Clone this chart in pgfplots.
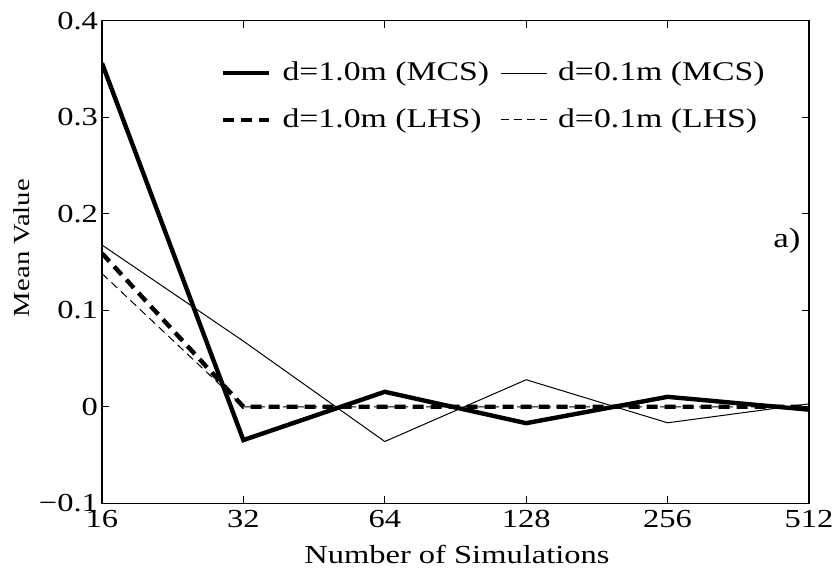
\documentclass[border=0pt]{standalone}
\usepackage{pgfplots}
\pgfplotsset{compat=1.18}
\usepackage{fontspec}
\setmainfont[FakeStretch=1.25]{Liberation Serif}
\begin{document}
\begin{tikzpicture}[font=\fontsize{13}{15}\selectfont]
\begin{axis}[
  at={(0pt,0pt)}, anchor=south west,
  scale only axis,
  width=353.5pt, height=241.3pt,
  xmin=0, xmax=5, ymin=-0.1, ymax=0.4,
  xtick={0,1,2,3,4,5},
  xticklabels={16,32,64,128,256,512},
  ytick={-0.1,0,0.1,0.2,0.3,0.4},
  yticklabels={−0.1,0,0.1,0.2,0.3,0.4},
  tick align=inside,
  major tick length=3.5pt,
  axis line style={line width=0.6pt},
  every tick/.style={black, line width=0.6pt},
  /pgf/number format/assume math mode=true,
  yticklabel style={xshift=1.5pt},
  xlabel={Number of Simulations},
  ylabel={Mean Value},
  xlabel style={at={(axis description cs:0.502,-0.107)}, anchor=center},
  ylabel style={at={(axis description cs:-0.1131,0.529)}, anchor=center,
    font=\fontsize{11.5}{14}\selectfont},
  legend columns=2,
  legend cell align=left,
  legend style={draw=none, fill=none, at={(axis description cs:0.168,0.921)}, anchor=north west,
    inner sep=0pt, row sep=9.5pt, column sep=4pt,
    nodes={inner sep=1.5pt}, font=\fontsize{13.5}{16}\selectfont},
  legend image code/.code={\draw[#1] (0pt,0pt) -- (23pt,0pt);},
]
% d=1.0m (MCS)
\addplot[black, line width=2.2pt] coordinates {
(0,0.356) (1,-0.0345) (2,0.0155) (3,-0.017) (4,0.0103) (5,-0.003)};
\addlegendentry{d=1.0m (MCS)\hspace{18pt}}
% d=0.1m (MCS)
\addplot[black, line width=0.5pt] coordinates {
(0,0.1676) (1,0.068) (2,-0.036) (3,0.028) (4,-0.0166) (5,0.003)};
\addlegendentry{d=0.1m (MCS)}
% d=1.0m (LHS)
\addplot[black, line width=2.2pt, dash pattern=on 5.5pt off 3.5pt] coordinates {
(0,0.159) (1,0) (2,0) (3,0) (4,0) (5,0)};
\addlegendentry{d=1.0m (LHS)}
% d=0.1m (LHS)
\addplot[black, line width=0.5pt, dash pattern=on 4pt off 2.5pt] coordinates {
(0,0.138) (1,0) (2,0) (3,0) (4,0) (5,0)};
\addlegendentry{d=0.1m (LHS)}
\node[anchor=east, font=\fontsize{14}{16}\selectfont] at (axis cs:4.99,0.172) {a)};
\end{axis}
\pgfresetboundingbox
\path (-51pt,-33.85pt) rectangle (367.5pt,251.65pt);
\end{tikzpicture}
\end{document}
